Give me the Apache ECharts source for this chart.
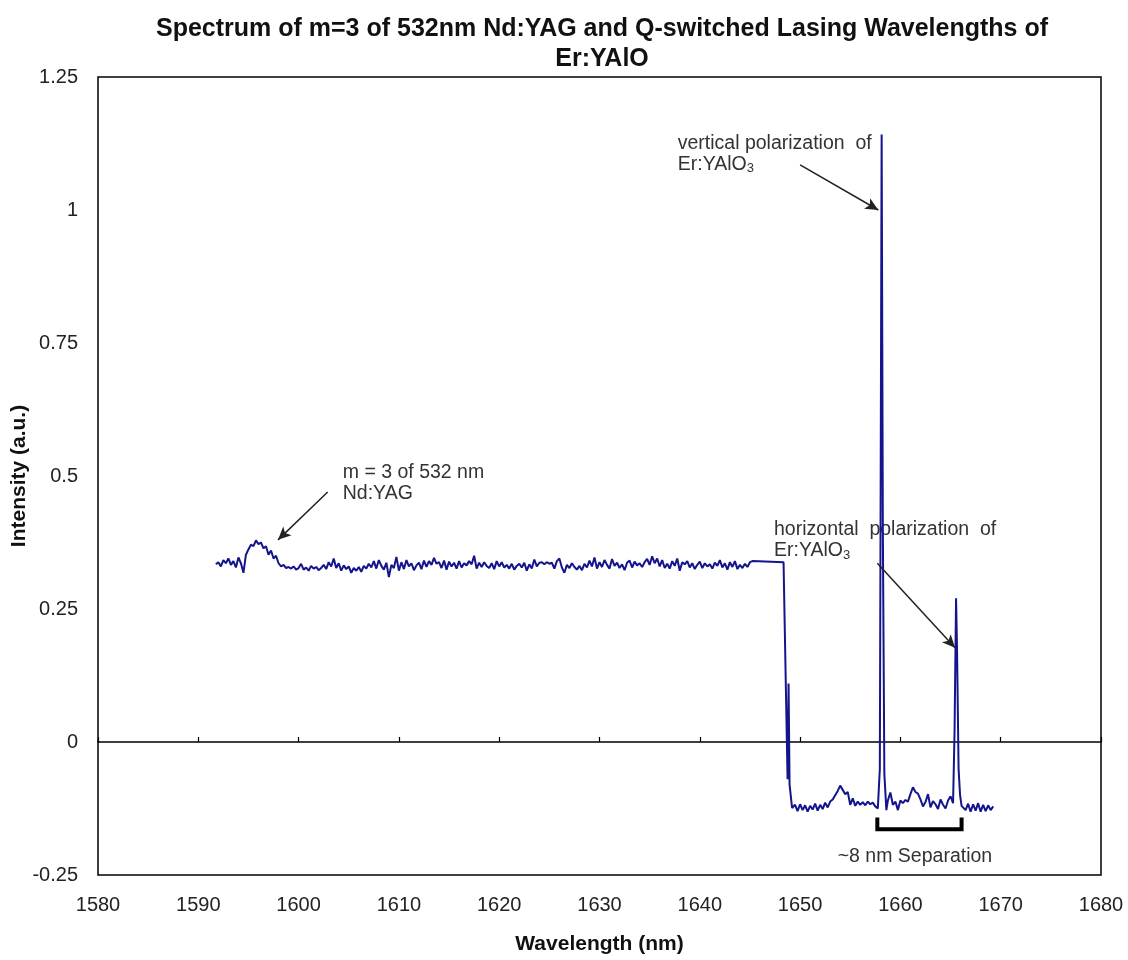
<!DOCTYPE html>
<html>
<head>
<meta charset="utf-8">
<script src="https://cdn.jsdelivr.net/npm/echarts@6/dist/echarts.min.js"></script>
<style>
  html, body { margin: 0; padding: 0; background: #fff; }
  #chart { width: 1128px; height: 960px; }
</style>
</head>
<body>
<div id="chart"></div>
<script>
// Axis ranges and tick settings
const xMin = 1580, xMax = 1680, xStep = 10;
const yMin = -0.25, yMax = 1.25, yStep = 0.25;

// Flat Nd:YAG region, sampled every 0.25 nm starting at 1591.75 nm
const ndStart = 1591.75;
const ndStep = 0.25;
const ndIntensity = [
  0.334, 0.338, 0.330, 0.342, 0.336, 0.345, 0.333, 0.340, 0.328, 0.347,
  0.336, 0.318, 0.352, 0.362, 0.371, 0.368, 0.379, 0.372, 0.375, 0.364,
  0.368, 0.352, 0.360, 0.345, 0.350, 0.336, 0.330, 0.333, 0.327, 0.329,
  0.326, 0.330, 0.324, 0.327, 0.335, 0.324, 0.328, 0.322, 0.331, 0.326,
  0.329, 0.323, 0.327, 0.333, 0.325, 0.338, 0.330, 0.345, 0.327, 0.336,
  0.322, 0.332, 0.325, 0.330, 0.318, 0.327, 0.322, 0.329, 0.320, 0.331,
  0.326, 0.335, 0.328, 0.340, 0.326, 0.342, 0.331, 0.324, 0.337, 0.310,
  0.333, 0.327, 0.348, 0.322, 0.338, 0.325, 0.342, 0.330, 0.336, 0.323,
  0.332, 0.337, 0.325, 0.341, 0.329, 0.340, 0.333, 0.346, 0.335, 0.338,
  0.327, 0.341, 0.324, 0.339, 0.330, 0.337, 0.326, 0.340, 0.328, 0.336,
  0.332, 0.340, 0.334, 0.350, 0.326, 0.337, 0.329, 0.338, 0.331, 0.327,
  0.336, 0.325, 0.340, 0.330, 0.338, 0.328, 0.333, 0.326, 0.335, 0.324,
  0.331, 0.335, 0.328, 0.337, 0.322, 0.334, 0.326, 0.343, 0.330, 0.337,
  0.338, 0.334, 0.338, 0.335, 0.337, 0.326, 0.340, 0.345, 0.328, 0.318,
  0.333, 0.327, 0.336, 0.329, 0.324, 0.331, 0.323, 0.335, 0.328, 0.341,
  0.330, 0.347, 0.326, 0.338, 0.329, 0.342, 0.333, 0.326, 0.344, 0.331,
  0.337, 0.327, 0.334, 0.323, 0.337, 0.341, 0.328, 0.339, 0.332, 0.336,
  0.329, 0.338, 0.344, 0.333, 0.349, 0.336, 0.345, 0.330, 0.342, 0.327,
  0.335, 0.326, 0.340, 0.331, 0.345, 0.322, 0.338, 0.334, 0.340, 0.328,
  0.336, 0.325, 0.333, 0.339, 0.327, 0.336, 0.330, 0.334, 0.326, 0.337,
  0.331, 0.342, 0.328, 0.336, 0.324, 0.338, 0.329, 0.340, 0.325, 0.333,
  0.327, 0.335, 0.329, 0.338
];

// Er:YAlO3 lasing region: [wavelength (nm), intensity]
const erSpectrum = [
  [1645.25, 0.340], [1648.35, 0.338], [1648.75, -0.070], [1648.85, 0.110],
  [1648.95, -0.080], [1649.2, -0.124], [1649.5, -0.118], [1649.75, -0.130],
  [1650.0, -0.117], [1650.25, -0.128], [1650.5, -0.119], [1650.75, -0.131],
  [1651.0, -0.120], [1651.25, -0.127], [1651.5, -0.116], [1651.75, -0.129],
  [1652.0, -0.118], [1652.25, -0.126], [1652.5, -0.114], [1652.75, -0.123],
  [1653.0, -0.112], [1653.25, -0.108], [1653.5, -0.100], [1653.75, -0.092],
  [1654.0, -0.082], [1654.25, -0.090], [1654.5, -0.098], [1654.75, -0.094],
  [1655.0, -0.118], [1655.25, -0.106], [1655.5, -0.120], [1655.75, -0.112],
  [1656.0, -0.118], [1656.25, -0.113], [1656.5, -0.119], [1656.75, -0.112],
  [1657.0, -0.117], [1657.25, -0.114], [1657.5, -0.121], [1657.75, -0.125],
  [1657.95, -0.050], [1658.05, 0.600], [1658.13, 1.142], [1658.25, 0.400],
  [1658.4, -0.060], [1658.6, -0.128], [1658.75, -0.110], [1659.0, -0.095],
  [1659.25, -0.118], [1659.5, -0.112], [1659.75, -0.128], [1660.0, -0.110],
  [1660.25, -0.115], [1660.5, -0.109], [1660.75, -0.112], [1661.0, -0.098],
  [1661.25, -0.085], [1661.5, -0.094], [1661.75, -0.097], [1662.0, -0.108],
  [1662.25, -0.121], [1662.5, -0.113], [1662.75, -0.098], [1663.0, -0.123],
  [1663.25, -0.111], [1663.5, -0.117], [1663.75, -0.126], [1664.0, -0.108],
  [1664.25, -0.118], [1664.5, -0.125], [1664.75, -0.110], [1665.0, -0.102],
  [1665.25, -0.115], [1665.4, 0.020], [1665.55, 0.270], [1665.65, 0.170],
  [1665.8, -0.050], [1665.95, -0.100], [1666.1, -0.120], [1666.25, -0.117],
  [1666.5, -0.128], [1666.75, -0.116], [1667.0, -0.131], [1667.25, -0.117],
  [1667.5, -0.129], [1667.75, -0.115], [1668.0, -0.131], [1668.25, -0.118],
  [1668.5, -0.130], [1668.75, -0.119], [1669.0, -0.128], [1669.25, -0.121]
];

// Bracket marking the separation between the two polarization peaks
const bracket = [[1657.7, -0.142], [1657.7, -0.164], [1666.1, -0.164], [1666.1, -0.142]];

// Annotation arrows: [from, to] in data coordinates
const arrows = [
  [[1602.9, 0.47], [1597.95, 0.38]],
  [[1650.0, 1.085], [1657.8, 1.0]],
  [[1657.7, 0.336], [1665.45, 0.177]]
];

// Annotation texts: anchor (left edge, top) in data coordinates
const notes = [
  { at: [1604.4, 0.527], text: 'm = 3 of 532 nm\nNd:YAG' },
  { at: [1637.8, 1.145], text: 'vertical polarization  of\nEr:YAlO{sub|3}' },
  { at: [1647.4, 0.418], text: 'horizontal  polarization  of\nEr:YAlO{sub|3}' }
];
const separationNote = { at: [1661.45, -0.216], text: '~8 nm Separation' };

const titleText = 'Spectrum of m=3 of 532nm Nd:YAG and Q-switched Lasing Wavelengths of\nEr:YAlO';
const xName = 'Wavelength (nm)';
const yName = 'Intensity (a.u.)';

const FONT = '"Liberation Sans", Arial, Helvetica, sans-serif';

const spectrum = ndIntensity.map((v, i) => [ndStart + i * ndStep, v]).concat(erSpectrum);

const chart = echarts.init(document.getElementById('chart'), null, { renderer: 'canvas' });

chart.setOption({
  backgroundColor: '#fff',
  animation: false,
  title: {
    text: titleText,
    left: 597,
    textAlign: 'center',
    top: 9,
    textStyle: { fontFamily: FONT, fontSize: 25, fontWeight: 'bold', color: '#111', lineHeight: 30 }
  },
  grid: {
    left: 98, right: 27, top: 77, bottom: 85,
    outerBoundsMode: 'none',
    containLabel: false,
    show: true, borderColor: '#000', borderWidth: 1.5, backgroundColor: 'transparent'
  },
  xAxis: [
    {
      type: 'value', min: xMin, max: xMax, interval: xStep, position: 'bottom',
      axisLine: { show: false, onZero: false },
      axisTick: { show: false },
      splitLine: { show: false },
      axisLabel: { margin: 20, fontFamily: FONT, fontSize: 20, color: '#222', formatter: v => String(v) },
      name: xName, nameLocation: 'middle', nameGap: 59,
      nameTextStyle: { fontFamily: FONT, fontSize: 21, fontWeight: 'bold', color: '#111' }
    },
    {
      type: 'value', min: xMin, max: xMax, interval: xStep, position: 'bottom',
      axisLine: { show: true, onZero: true, lineStyle: { color: '#000', width: 1.5 } },
      axisTick: { show: true, inside: true, length: 5, lineStyle: { color: '#000', width: 1.2 } },
      axisLabel: { show: false },
      splitLine: { show: false }
    }
  ],
  yAxis: {
    type: 'value', min: yMin, max: yMax, interval: yStep,
    axisLine: { show: false },
    axisTick: { show: false },
    splitLine: { show: false },
    axisLabel: { margin: 20, fontFamily: FONT, fontSize: 20, color: '#222', formatter: v => String(v) },
    name: yName, nameLocation: 'middle', nameGap: 68, nameRotate: 90, nameMoveOverlap: false,
    nameTextStyle: { fontFamily: FONT, fontSize: 21, fontWeight: 'bold', color: '#111' }
  },
  series: [
    {
      name: 'spectrum',
      type: 'line',
      xAxisIndex: 0,
      data: spectrum,
      showSymbol: false,
      lineStyle: { color: '#14148c', width: 2 },
      silent: true,
      markLine: {
        silent: true,
        symbol: ['none', 'arrow'],
        symbolSize: [9, 13],
        label: { show: false },
        lineStyle: { color: '#222', width: 1.5, type: 'solid' },
        data: arrows.map(a => [{ coord: a[0] }, { coord: a[1] }])
      }
    },
    {
      name: 'bracket',
      type: 'line',
      xAxisIndex: 0,
      data: bracket,
      showSymbol: false,
      lineStyle: { color: '#000', width: 4, join: 'miter' },
      silent: true
    }
  ]
});

// Place annotation texts using the chart's own coordinate conversion
function px(p) { return chart.convertToPixel({ xAxisIndex: 0, yAxisIndex: 0 }, p); }
const noteStyle = { fontFamily: FONT, fontSize: 19.5, fill: '#333' };
const rich = {
  sub: { fontFamily: FONT, fontSize: 13, fill: '#333', color: '#333', verticalAlign: 'bottom', padding: [8, 0, 0, 0] }
};
const graphics = notes.map(n => {
  const p = px(n.at);
  return {
    type: 'text', x: p[0], y: p[1], silent: true,
    style: Object.assign({ text: n.text, lineHeight: 21, rich: rich, textAlign: 'left', textVerticalAlign: 'top' }, noteStyle)
  };
});
const sp = px(separationNote.at);
graphics.push({
  type: 'text', x: sp[0], y: sp[1], silent: true,
  style: Object.assign({ text: separationNote.text, textAlign: 'center', textVerticalAlign: 'middle' }, noteStyle)
});
chart.setOption({ graphic: graphics });
</script>
</body>
</html>
